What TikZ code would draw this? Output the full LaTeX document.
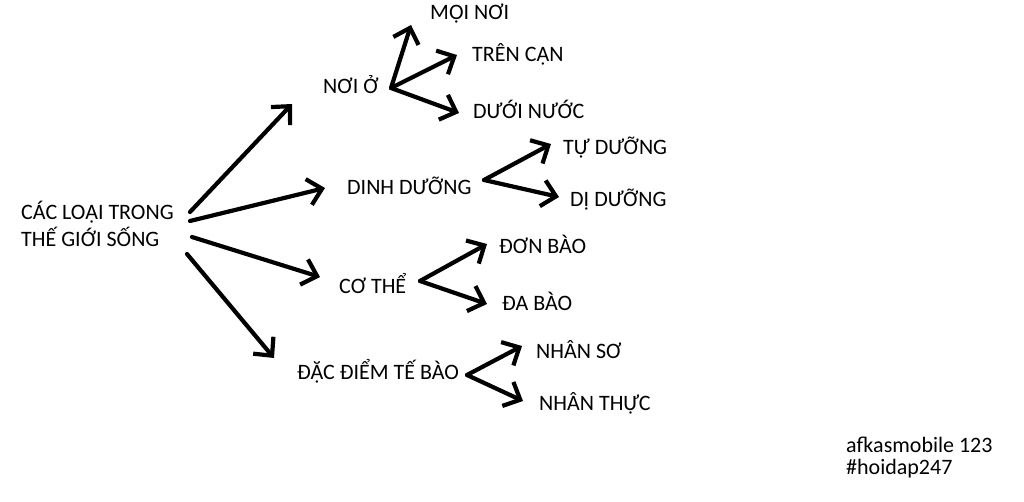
\documentclass[tikz,border=0pt]{standalone}
\usepackage{fontspec}
\setmainfont{Carlito}
\usetikzlibrary{arrows.meta}
\begin{document}
\begin{tikzpicture}[x=1pt,y=-1pt,
  lbl/.style={anchor=base west,inner sep=0pt,font=\fontsize{22}{26}\selectfont},
  arr/.style={line width=4.2pt,-{Straight Barb[angle=88:19pt,line width=4.2pt]},line cap=round}]
\useasboundingbox (0,0) rectangle (1024,502);
\fill[white] (0,0) rectangle (1024,502);
% texts (positions are baselines)
\node[lbl] (root) at (21,220) {CÁC LOẠI TRONG};
\node[lbl] (root2) at (21,247) {THẾ GIỚI SỐNG};
\node[lbl] (noi) at (323,94) {NƠI Ở};
\node[lbl] (moi) at (430,20) {MỌI NƠI};
\node[lbl] (tren) at (472,62) {TRÊN CẠN};
\node[lbl] (duoi) at (473,119) {DƯỚI NƯỚC};
\node[lbl] (dinh) at (347,195) {DINH DƯỠNG};
\node[lbl] (tu) at (563,155) {TỰ DƯỠNG};
\node[lbl] (di) at (570,207) {DỊ DƯỠNG};
\node[lbl] (co) at (339,294) {CƠ THỂ};
\node[lbl] (don) at (499,254) {ĐƠN BÀO};
\node[lbl] (da) at (502,310) {ĐA BÀO};
\node[lbl] (dac) at (297,379) {ĐẶC ĐIỂM TẾ BÀO};
\node[lbl] (so) at (536,358) {NHÂN SƠ};
\node[lbl] (thuc) at (539,410) {NHÂN THỰC};
\node[lbl] (wm1) at (846,452) {afkasmobile 123};
\node[lbl] (wm2) at (846,474) {\#hoidap247};
% coordinates
\coordinate (r1) at (190,212);
\coordinate (r2) at (190,221);
\coordinate (r3) at (192,237);
\coordinate (r4) at (187,254);
\coordinate (noiin) at (292,104);
\coordinate (dinhin) at (325,188);
\coordinate (coin) at (320,277);
\coordinate (dacin) at (274,358);
\coordinate (noiv) at (391,88);
\coordinate (moiin) at (411,25);
\coordinate (trenin) at (457,55);
\coordinate (duoiin) at (459,113);
\coordinate (dinhv) at (484,180);
\coordinate (tuin) at (551,144);
\coordinate (diin) at (559,197);
\coordinate (cov) at (420,281);
\coordinate (donin) at (487,244);
\coordinate (dain) at (487,304);
\coordinate (dacv) at (467,375);
\coordinate (soin) at (522,346);
\coordinate (thucin) at (523,401);
% arrows
\draw[arr] (r1) -- (noiin);
\draw[arr] (r2) -- (dinhin);
\draw[arr] (r3) -- (coin);
\draw[arr] (r4) -- (dacin);
\draw[arr] (noiv) -- (moiin);
\draw[arr] (noiv) -- (trenin);
\draw[arr] (noiv) -- (duoiin);
\draw[arr] (dinhv) -- (tuin);
\draw[arr] (dinhv) -- (diin);
\draw[arr] (cov) -- (donin);
\draw[arr] (cov) -- (dain);
\draw[arr] (dacv) -- (soin);
\draw[arr] (dacv) -- (thucin);
\end{tikzpicture}
\end{document}
